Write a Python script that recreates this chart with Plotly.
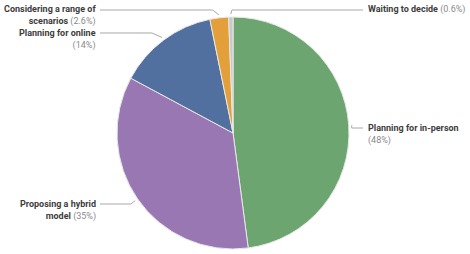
import math
import plotly.graph_objects as go

# ---- data ----
labels = ["Planning for in-person", "Proposing a hybrid model", "Planning for online",
          "Considering a range of scenarios", "Waiting to decide"]
label_lines = [["Planning for in-person"], ["Proposing a hybrid", "model"], ["Planning for online"],
               ["Considering a range of", "scenarios"], ["Waiting to decide"]]
pct_newline = [True, False, True, False, False]
values = [48, 35, 14, 2.6, 0.6]
pct_text = ["48%", "35%", "14%", "2.6%", "0.6%"]
colors = ["#6ca56f", "#9977b3", "#51709f", "#e3a03a", "#c9c9c9"]

# ---- layout constants (px) ----
W, H = 470, 254
CX, CY, R = 233, 133, 116
label_side = [1, -1, -1, -1, 1]          # +1 right, -1 left
label_y = [128, 204, 33, 10, 10]         # first text line centre (px)
elbow_k = [0, 1.3, 2.2, 1.3, 0.3]
left_end, right_end = 100, 363
FS = 9

def px(x, y):
    return x / W, 1 - y / H

fig = go.Figure(go.Pie(
    labels=labels, values=values, sort=False, direction="clockwise", rotation=0,
    marker=dict(colors=colors, line=dict(color="#e8e8e8", width=1)),
    textinfo="none", hoverinfo="label+percent", showlegend=False,
    domain=dict(x=[(CX - R) / W, (CX + R) / W], y=[(H - CY - R) / H, (H - CY + R) / H]),
))

total = sum(values)
cum = 0.0
shapes, annotations = [], []
for i, v in enumerate(values):
    mid = (cum + v / 2) / total * 2 * math.pi
    cum += v
    sx = CX + (R + 3) * math.sin(mid)
    sy = CY - (R + 3) * math.cos(mid)
    ly = label_y[i]
    side = label_side[i]
    dy = abs(sy - ly)
    ex = sx + side * dy * elbow_k[i]
    endx = right_end if side > 0 else left_end
    pts = [(sx, sy), (ex, ly), (endx, ly)]
    path = "M " + " L ".join(f"{px(a, b)[0]:.5f},{px(a, b)[1]:.5f}" for a, b in pts)
    shapes.append(dict(type="path", xref="paper", yref="paper", path=path,
                       line=dict(color="#a8a8a8", width=1)))
    name = "<br>".join(label_lines[i])
    sep = "<br>" if pct_newline[i] else " "
    txt = f"<b>{name}</b>{sep}<span style='color:#8a8a8a'>({pct_text[i]})</span>"
    ax_, ay_ = px(endx + (4 if side > 0 else -3), ly - 6.5)
    annotations.append(dict(
        x=ax_, y=ay_, xref="paper", yref="paper", text=txt, showarrow=False,
        xanchor="left" if side > 0 else "right", yanchor="top",
        align="left" if side > 0 else "right",
        font=dict(family="Roboto", size=FS, color="#3c3c3c"), borderpad=0,
    ))

fig.update_layout(width=W, height=H, margin=dict(l=0, r=0, t=0, b=0),
                  paper_bgcolor="white", plot_bgcolor="white",
                  shapes=shapes, annotations=annotations)
fig.write_html("out.html")
